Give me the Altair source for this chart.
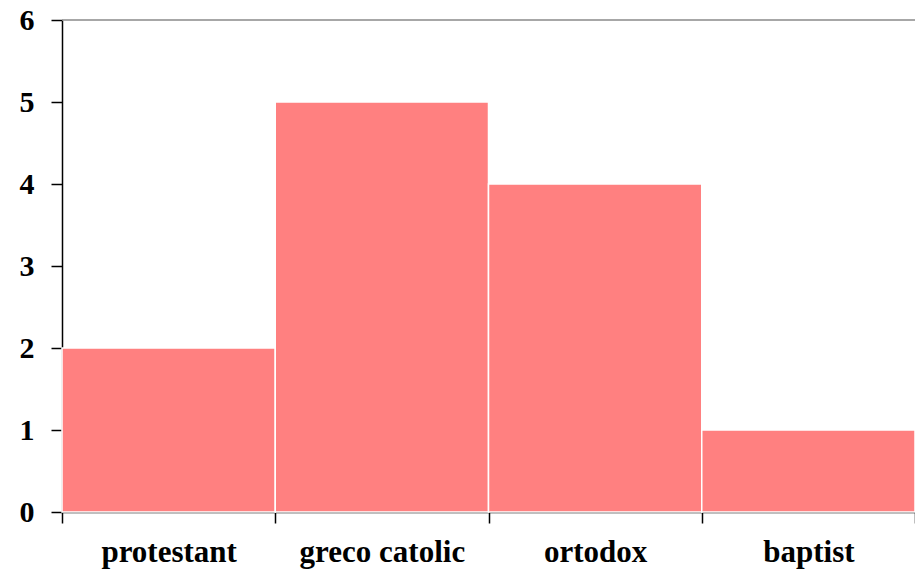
import altair as alt
import pandas as pd

categories = ["protestant", "greco catolic", "ortodox", "baptist"]
values = [2, 5, 4, 1]

df = pd.DataFrame({"cat": categories, "val": values})

FONT = "Liberation Serif"

bars = alt.Chart(df).mark_bar(color="#FF8080", stroke="white", strokeWidth=1.5).encode(
    x=alt.X("cat:N", sort=categories, title=None,
            scale=alt.Scale(paddingInner=0, paddingOuter=0),
            axis=alt.Axis(labelAngle=0, tickBand="extent", tickSize=11, labelPadding=14,
                          labelFont=FONT, labelFontSize=31, labelFontWeight="bold",
                          labelColor="black", domainColor="black", tickColor="black",
                          domainWidth=1.5, tickWidth=1.5)),
    y=alt.Y("val:Q", title=None,
            scale=alt.Scale(domain=[0, 6], nice=False),
            axis=alt.Axis(values=[0, 1, 2, 3, 4, 5, 6], format="d", tickSize=11, labelPadding=17,
                          grid=False,
                          labelFont=FONT, labelFontSize=30, labelFontWeight="bold",
                          labelColor="black", domainColor="black", tickColor="black",
                          domainWidth=1.5, tickWidth=1.5)),
)

top = alt.Chart(pd.DataFrame({"v": [6]})).mark_rule(color="#8a8a8a", strokeWidth=1.5).encode(
    y="v:Q"
)

chart = alt.layer(bars, top).properties(
    width=853, height=492,
    autosize=alt.AutoSizeParams(type="none"),
    padding={"left": 54, "top": 12, "right": 0, "bottom": 60},
).configure_view(stroke=None)

chart.save("out.html", embed_options={"renderer": "svg", "actions": False})
